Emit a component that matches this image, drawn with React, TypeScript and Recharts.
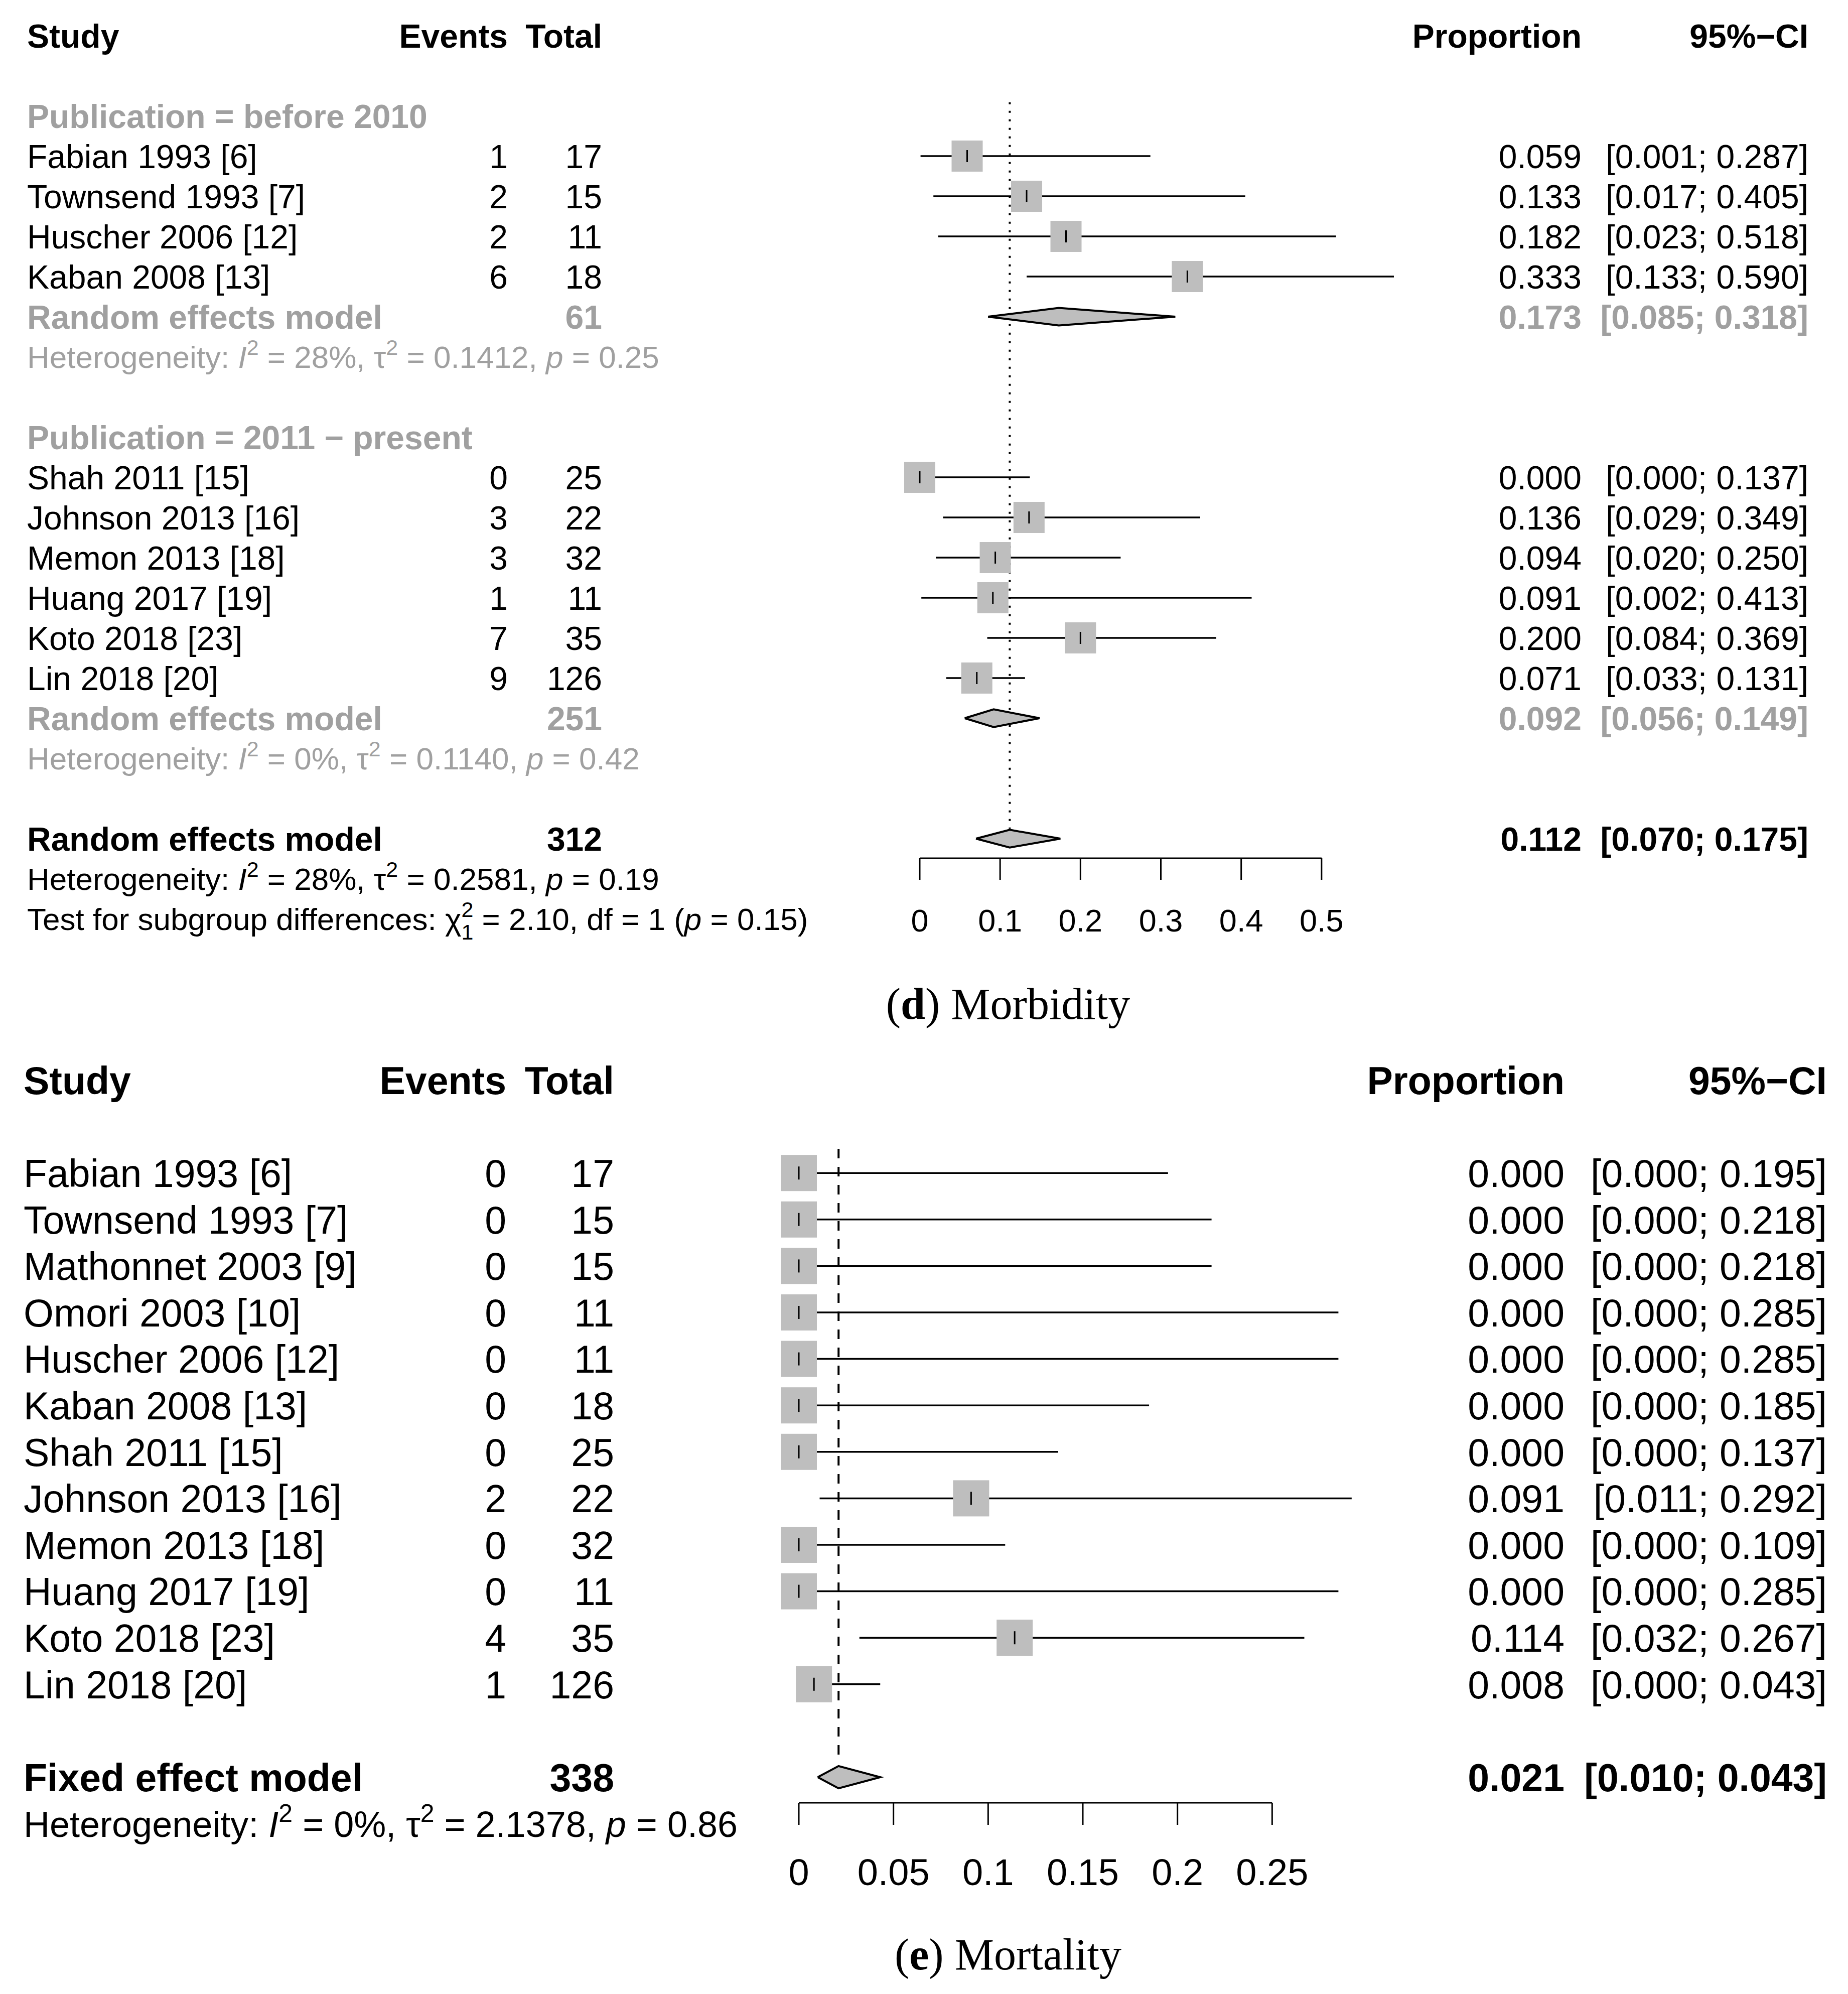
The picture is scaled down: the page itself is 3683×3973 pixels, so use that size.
import React from "react";
import {
  ScatterChart,
  Scatter,
  XAxis,
  YAxis,
  ErrorBar,
  ReferenceLine,
} from "recharts";

const FONT = '"Liberation Sans", Arial, Helvetica, sans-serif';
const GRAY_TEXT = "#a0a0a0";
const BOX = "#bebebe";

// ---- (d) Morbidity ----
const morbStudies = [
  "Fabian 1993 [6]",
  "Townsend 1993 [7]",
  "Huscher 2006 [12]",
  "Kaban 2008 [13]",
  "Shah 2011 [15]",
  "Johnson 2013 [16]",
  "Memon 2013 [18]",
  "Huang 2017 [19]",
  "Koto 2018 [23]",
  "Lin 2018 [20]",
];
const morbGroup = [0, 0, 0, 0, 1, 1, 1, 1, 1, 1];
const morbEvents = [1, 2, 2, 6, 0, 3, 3, 1, 7, 9];
const morbTotals = [17, 15, 11, 18, 25, 22, 32, 11, 35, 126];
const morbProp = [0.059, 0.133, 0.182, 0.333, 0.0, 0.136, 0.094, 0.091, 0.2, 0.071];
const morbLower = [0.001, 0.017, 0.023, 0.133, 0.0, 0.029, 0.02, 0.002, 0.084, 0.033];
const morbUpper = [0.287, 0.405, 0.518, 0.59, 0.137, 0.349, 0.25, 0.413, 0.369, 0.131];

const morbGroupLabels = ["Publication = before 2010", "Publication = 2011 \u2212 present"];
const morbGroupTotal = [61, 251];
const morbGroupProp = [0.173, 0.092];
const morbGroupLower = [0.085, 0.056];
const morbGroupUpper = [0.318, 0.149];
const morbGroupI2 = ["28%", "0%"];
const morbGroupTau2 = ["0.1412", "0.1140"];
const morbGroupP = ["0.25", "0.42"];

const morbPooled = [0.112, 0.07, 0.175];
const morbPooledTotal = 312;
const morbHet = ["28%", "0.2581", "0.19"];
const morbTest = ["2.10", "1", "0.15"];
const morbTicks = [0, 0.1, 0.2, 0.3, 0.4, 0.5];

// ---- (e) Mortality ----
const mortStudies = [
  "Fabian 1993 [6]",
  "Townsend 1993 [7]",
  "Mathonnet 2003 [9]",
  "Omori 2003 [10]",
  "Huscher 2006 [12]",
  "Kaban 2008 [13]",
  "Shah 2011 [15]",
  "Johnson 2013 [16]",
  "Memon 2013 [18]",
  "Huang 2017 [19]",
  "Koto 2018 [23]",
  "Lin 2018 [20]",
];
const mortEvents = [0, 0, 0, 0, 0, 0, 0, 2, 0, 0, 4, 1];
const mortTotals = [17, 15, 15, 11, 11, 18, 25, 22, 32, 11, 35, 126];
const mortProp = [0, 0, 0, 0, 0, 0, 0, 0.091, 0, 0, 0.114, 0.008];
const mortLower = [0, 0, 0, 0, 0, 0, 0, 0.011, 0, 0, 0.032, 0];
const mortUpper = [0.195, 0.218, 0.218, 0.285, 0.285, 0.185, 0.137, 0.292, 0.109, 0.285, 0.267, 0.043];
const mortPooled = [0.021, 0.01, 0.043];
const mortPooledTotal = 338;
const mortHet = ["0%", "2.1378", "0.86"];
const mortTicks = [0, 0.05, 0.1, 0.15, 0.2, 0.25];

function studyRow(label, events, total, prop, lo, hi) {
  return { kind: "study", label, events, total, prop, lo, hi };
}

function buildMorbRows() {
  const rows: any[] = [{ kind: "header" }, { kind: "blank" }];
  morbGroupLabels.forEach((g, gi) => {
    rows.push({ kind: "group", label: g });
    morbStudies.forEach((s, i) => {
      if (morbGroup[i] === gi)
        rows.push(studyRow(s, morbEvents[i], morbTotals[i], morbProp[i], morbLower[i], morbUpper[i]));
    });
    rows.push({
      kind: "sub",
      label: "Random effects model",
      total: morbGroupTotal[gi],
      prop: morbGroupProp[gi],
      lo: morbGroupLower[gi],
      hi: morbGroupUpper[gi],
    });
    rows.push({ kind: "subhet", het: [morbGroupI2[gi], morbGroupTau2[gi], morbGroupP[gi]] });
    rows.push({ kind: "blank" });
  });
  rows.push({
    kind: "pooled",
    label: "Random effects model",
    total: morbPooledTotal,
    prop: morbPooled[0],
    lo: morbPooled[1],
    hi: morbPooled[2],
  });
  rows.push({ kind: "het", het: morbHet });
  rows.push({ kind: "test", test: morbTest });
  return rows;
}

function buildMortRows() {
  const rows: any[] = [{ kind: "header" }, { kind: "blank" }];
  mortStudies.forEach((s, i) =>
    rows.push(studyRow(s, mortEvents[i], mortTotals[i], mortProp[i], mortLower[i], mortUpper[i]))
  );
  rows.push({ kind: "blank" });
  rows.push({
    kind: "pooled",
    label: "Fixed effect model",
    total: mortPooledTotal,
    prop: mortPooled[0],
    lo: mortPooled[1],
    hi: mortPooled[2],
  });
  rows.push({ kind: "het", het: mortHet });
  return rows;
}

const fmt = (v) => v.toFixed(3);
const ciText = (lo, hi) => `[${fmt(lo)}; ${fmt(hi)}]`;

function HetText({ x, y, fs, fill, het }) {
  const sup = Math.round(fs * 0.7);
  const up = Math.round(fs * 0.42);
  return (
    <text x={x} y={y} fontSize={fs} fill={fill} fontFamily={FONT} style={{ whiteSpace: "pre" }}>
      <tspan>Heterogeneity: </tspan>
      <tspan fontStyle="italic">I</tspan>
      <tspan fontSize={sup} dy={-up}>2</tspan>
      <tspan dy={up}>{` = ${het[0]}, \u03c4`}</tspan>
      <tspan fontSize={sup} dy={-up}>2</tspan>
      <tspan dy={up}>{` = ${het[1]}, `}</tspan>
      <tspan fontStyle="italic">p</tspan>
      <tspan>{` = ${het[2]}`}</tspan>
    </text>
  );
}

function TestText({ x, y, fs, test }) {
  const sup = Math.round(fs * 0.7);
  const up = Math.round(fs * 0.42);
  const down = Math.round(fs * 0.3);
  return (
    <text x={x} y={y} fontSize={fs} fill="#000" fontFamily={FONT} style={{ whiteSpace: "pre" }}>
      <tspan>{"Test for subgroup differences: \u03c7"}</tspan>
      <tspan fontSize={sup} dy={-up}>2</tspan>
      <tspan fontSize={sup} dx={-sup * 0.556} dy={up + down}>{test[1]}</tspan>
      <tspan dy={-down}>{` = ${test[0]}, df = ${test[1]} (`}</tspan>
      <tspan fontStyle="italic">p</tspan>
      <tspan>{` = ${test[2]})`}</tspan>
    </text>
  );
}

function RowTick(props) {
  const { y, payload, rows, cfg } = props;
  const row = rows[payload.value];
  if (!row || row.kind === "blank") return <g />;
  const fs = cfg.fontSize;
  const by = y + fs * 0.36;
  const c = cfg.cols;
  const noteFs = Math.round(fs * cfg.noteScale);
  const t = (x, str, anchor, weight, fill) => (
    <text
      x={x}
      y={by}
      textAnchor={anchor}
      fontWeight={weight}
      fill={fill}
      fontSize={fs}
      fontFamily={FONT}
      style={{ whiteSpace: "pre" }}
    >
      {str}
    </text>
  );
  if (row.kind === "header")
    return (
      <g>
        {t(c.study, "Study", "start", "bold", "#000")}
        {t(c.events, "Events", "end", "bold", "#000")}
        {t(c.total, "Total", "end", "bold", "#000")}
        {t(c.prop, "Proportion", "end", "bold", "#000")}
        {t(c.ci, "95%\u2212CI", "end", "bold", "#000")}
      </g>
    );
  if (row.kind === "group") return t(c.study, row.label, "start", "bold", GRAY_TEXT);
  if (row.kind === "study")
    return (
      <g>
        {t(c.study, row.label, "start", "normal", "#000")}
        {t(c.events, String(row.events), "end", "normal", "#000")}
        {t(c.total, String(row.total), "end", "normal", "#000")}
        {t(c.prop, fmt(row.prop), "end", "normal", "#000")}
        {t(c.ci, ciText(row.lo, row.hi), "end", "normal", "#000")}
      </g>
    );
  if (row.kind === "sub" || row.kind === "pooled") {
    const col = row.kind === "sub" ? GRAY_TEXT : "#000";
    return (
      <g>
        {t(c.study, row.label, "start", "bold", col)}
        {t(c.total, String(row.total), "end", "bold", col)}
        {t(c.prop, fmt(row.prop), "end", "bold", col)}
        {t(c.ci, ciText(row.lo, row.hi), "end", "bold", col)}
      </g>
    );
  }
  if (row.kind === "subhet" || row.kind === "het")
    return (
      <HetText
        x={c.study}
        y={y + noteFs * 0.36}
        fs={noteFs}
        fill={row.kind === "subhet" ? GRAY_TEXT : "#000"}
        het={row.het}
      />
    );
  if (row.kind === "test") return <TestText x={c.study} y={y + noteFs * 0.36} fs={noteFs} test={row.test} />;
  return <g />;
}

function ForestPanel({ rows, cfg }) {
  const studies = rows
    .map((r, i) => ({ r, i }))
    .filter((d) => d.r.kind === "study")
    .map((d) => ({ x: d.r.prop, y: d.i, err: [d.r.prop - d.r.lo, d.r.hi - d.r.prop] }));
  const diamonds = rows
    .map((r, i) => ({ r, i }))
    .filter((d) => d.r.kind === "sub" || d.r.kind === "pooled")
    .map((d) => [
      { x: d.r.lo, y: d.i },
      { x: d.r.prop, y: d.i - cfg.diamondHalf },
      { x: d.r.hi, y: d.i },
      { x: d.r.prop, y: d.i + cfg.diamondHalf },
      { x: d.r.lo, y: d.i },
    ]);
  const pooled = rows.find((r) => r.kind === "pooled");
  const tickRows = rows.map((_, i) => i);
  const box = cfg.box;

  return (
    <ScatterChart width={cfg.width} height={cfg.height} margin={cfg.margin}>
      <XAxis
        type="number"
        dataKey="x"
        domain={cfg.xDomain}
        ticks={cfg.ticks}
        interval={0}
        axisLine={false}
        tickLine={{ stroke: "#000", strokeWidth: 3 }}
        tickSize={cfg.tickSize}
        tickMargin={cfg.tickMargin}
        height={cfg.xAxisHeight}
        tick={{ fill: "#000", fontSize: cfg.tickFont, fontFamily: FONT }}
        tickFormatter={(v) => String(v)}
      />
      <YAxis
        type="number"
        dataKey="y"
        domain={cfg.yDomain}
        reversed
        ticks={tickRows}
        interval={0}
        width={1}
        axisLine={false}
        tickLine={false}
        tick={(p) => <RowTick {...p} rows={rows} cfg={cfg} />}
      />
      <ReferenceLine
        segment={[
          { x: pooled.prop, y: cfg.refRange[0] },
          { x: pooled.prop, y: cfg.refRange[1] },
        ]}
        stroke="#000"
        strokeWidth={4}
        strokeDasharray={cfg.refDash}
        ifOverflow="visible"
      />
      <ReferenceLine
        segment={[
          { x: cfg.ticks[0], y: cfg.yDomain[1] },
          { x: cfg.ticks[cfg.ticks.length - 1], y: cfg.yDomain[1] },
        ]}
        stroke="#000"
        strokeWidth={3}
        ifOverflow="visible"
      />
      <Scatter
        data={studies}
        isAnimationActive={false}
        shape={(p) => (
          <rect x={p.cx - box / 2} y={p.cy - box / 2} width={box} height={box} fill={BOX} />
        )}
      />
      <Scatter
        data={studies}
        isAnimationActive={false}
        shape={(p) => (
          <line
            x1={p.cx}
            x2={p.cx}
            y1={p.cy - cfg.estTick}
            y2={p.cy + cfg.estTick}
            stroke="#000"
            strokeWidth={3}
          />
        )}
      >
        <ErrorBar
          dataKey="err"
          direction="x"
          width={0}
          stroke="#000"
          strokeWidth={3.5}
          isAnimationActive={false}
        />
      </Scatter>
      {diamonds.map((pts, k) => (
        <Scatter
          key={k}
          data={pts}
          isAnimationActive={false}
          shape={() => <g />}
          line={{ fill: BOX, stroke: "#000", strokeWidth: 4 }}
          lineType="joint"
          lineJointType="linear"
        />
      ))}
    </ScatterChart>
  );
}

const morbRows = buildMorbRows();
const mortRows = buildMortRows();

const morbCfg = {
  width: 3683,
  height: 1900,
  margin: { top: 0, right: 889, bottom: 0, left: 1832 },
  xAxisHeight: 190,
  xDomain: [0, 0.6],
  ticks: morbTicks,
  yDomain: [-0.8875, 20.4875],
  fontSize: 66,
  noteScale: 0.94,
  tickFont: 63,
  tickSize: 43,
  tickMargin: 58,
  cols: { study: 54, events: 1012, total: 1200, prop: 3152, ci: 3604 },
  box: 62,
  estTick: 12,
  diamondHalf: 0.22,
  refRange: [1.66, 19.75],
  refDash: "4 13",
};

const mortCfg = {
  width: 3683,
  height: 1722,
  margin: { top: 0, right: 959, bottom: 0, left: 1591 },
  xAxisHeight: 210,
  xDomain: [0, 0.3],
  ticks: mortTicks,
  yDomain: [-0.7775, 15.5508],
  fontSize: 77,
  noteScale: 0.93,
  tickFont: 74,
  tickSize: 44,
  tickMargin: 67,
  cols: { study: 47, events: 1009, total: 1224, prop: 3118, ci: 3641 },
  box: 72,
  estTick: 13,
  diamondHalf: 0.24,
  refRange: [1.48, 14.65],
  refDash: "19 17",
};

const captionStyle: React.CSSProperties = {
  position: "absolute",
  transform: "translateX(-50%)",
  fontFamily: '"Liberation Serif", "Times New Roman", serif',
  fontSize: 88,
  lineHeight: "88px",
  whiteSpace: "nowrap",
  color: "#000",
};

export default function App() {
  return (
    <div style={{ position: "relative", width: 3683, height: 3973, background: "#fff" }}>
      <style>{"body{margin:0;background:#fff}"}</style>
      <div style={{ position: "absolute", left: 0, top: 0 }}>
        <ForestPanel rows={morbRows} cfg={morbCfg} />
      </div>
      <div style={{ ...captionStyle, left: 2009, top: 1957 }}>
        (<b>d</b>) Morbidity
      </div>
      <div style={{ position: "absolute", left: 0, top: 2080 }}>
        <ForestPanel rows={mortRows} cfg={mortCfg} />
      </div>
      <div style={{ ...captionStyle, left: 2009, top: 3851 }}>
        (<b>e</b>) Mortality
      </div>
    </div>
  );
}
